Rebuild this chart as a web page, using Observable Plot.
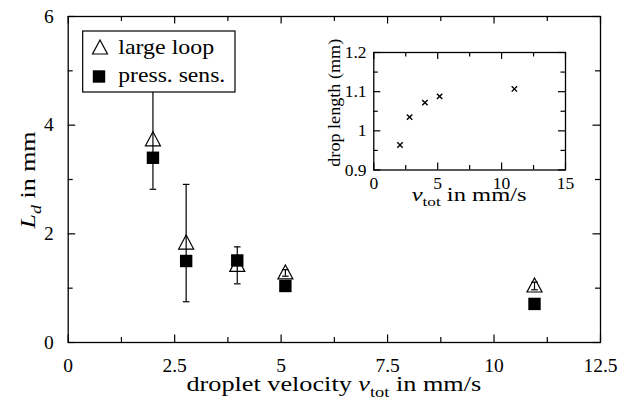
<!DOCTYPE html>
<html><head><meta charset="utf-8">
<script src="https://cdn.jsdelivr.net/npm/d3@7"></script>
<script src="https://cdn.jsdelivr.net/npm/@observablehq/plot@0.6"></script>
<style>
body{margin:0;background:#fff;}
#wrap{position:relative;width:632px;height:401px;}
#main{position:absolute;left:0;top:0;}
#inset{position:absolute;left:310px;top:40px;}
svg{overflow:visible;display:block;}
</style></head><body>
<div id="wrap"><div id="main"></div><div id="inset"></div></div>
<script>
// ---- data ----
const velocity = [1.99, 2.77, 3.97, 5.1, 10.95];
const largeLoop = [3.73, 1.83, 1.42, 1.28, 1.04];
const largeLoopErr = [0.91, 1.08, 0.34, 0.06, 0.07];
const pressSens = [3.40, 1.50, 1.51, 1.04, 0.71];
const insetVelocity = [2.05, 2.8, 4.0, 5.15, 11.0];
const dropLength = [0.964, 1.035, 1.072, 1.088, 1.107];
const xTicks = [0, 2.5, 5, 7.5, 10, 12.5];
const xMinor = [1.25, 3.75, 6.25, 8.75, 11.25];
const yTicks = [0, 2, 4, 6];
const yMinor = [1, 3, 5];
const insetXTicks = [0, 5, 10, 15];
const insetXMinor = [2.5, 7.5, 12.5];
const insetYTicks = [0.9, 1, 1.1, 1.2];
const insetYMinor = [0.95, 1.05, 1.15];
const seriesNames = ["large loop", "press. sens."];

// ---- symbols ----
const R = s => Math.sqrt(s / Math.PI);
const triangleSymbol = {draw(c, s){const r=R(s); c.moveTo(0,-r*1.07); c.lineTo(r,r*0.8); c.lineTo(-r,r*0.8); c.closePath();}};
const squareSymbol = {draw(c, s){const r=R(s); c.rect(-r,-r,2*r,2*r);}};
const capSymbol = {draw(c, s){const r=R(s); c.moveTo(-r,0); c.lineTo(r,0);}};
const crossSymbol = {draw(c, s){const r=R(s); c.moveTo(-r,-r); c.lineTo(r,r); c.moveTo(r,-r); c.lineTo(-r,r);}};

const rows = velocity.map((x, i) => ({x, loop: largeLoop[i], err: largeLoopErr[i], press: pressSens[i]}));
const insetRows = insetVelocity.map((x, i) => ({x, y: dropLength[i]}));

const font = "Liberation Serif";
const W = 632, H = 401, mL = 67.7, mR = 32, mT = 16, mB = 59;
const pW = W - mL - mR, pH = H - mT - mB;
const SW = 1.2;

function frameTicks(xs, xsMinor, ys, ysMinor, pw, ph, big, small) {
  return [
    Plot.tickX(xs, {x: d => d, insetTop: ph - big, strokeWidth: SW}),
    Plot.tickX(xs, {x: d => d, insetBottom: ph - big, strokeWidth: SW}),
    Plot.tickX(xsMinor, {x: d => d, insetTop: ph - small, strokeWidth: SW}),
    Plot.tickX(xsMinor, {x: d => d, insetBottom: ph - small, strokeWidth: SW}),
    Plot.tickY(ys, {y: d => d, insetRight: pw - big, strokeWidth: SW}),
    Plot.tickY(ys, {y: d => d, insetLeft: pw - big, strokeWidth: SW}),
    Plot.tickY(ysMinor, {y: d => d, insetRight: pw - small, strokeWidth: SW}),
    Plot.tickY(ysMinor, {y: d => d, insetLeft: pw - small, strokeWidth: SW}),
    Plot.frame({stroke: "black", strokeWidth: 1.3})
  ];
}

const main = Plot.plot({
  width: W, height: H, marginLeft: mL, marginRight: mR, marginTop: mT, marginBottom: mB,
  style: {fontFamily: font, fontSize: "19px", color: "black", background: "transparent"},
  x: {domain: [0, 12.5], axis: null},
  y: {domain: [0, 6], axis: null},
  marks: [
    ...frameTicks(xTicks, xMinor, yTicks, yMinor, pW, pH, 7.5, 5),
    Plot.text(xTicks, {x: d => d, text: d => String(d), frameAnchor: "bottom", dy: 23, lineAnchor: "middle", fontSize: 19.5, fontFamily: font}),
    Plot.text(yTicks, {y: d => d, text: d => String(d), frameAnchor: "left", dx: -14.5, textAnchor: "end", lineAnchor: "middle", fontSize: 19.5, fontFamily: font}),
    Plot.ruleX(rows, {x: "x", y1: d => d.loop - d.err, y2: d => d.loop + d.err, stroke: "black", strokeWidth: SW}),
    Plot.dot(rows, {x: "x", y: d => d.loop + d.err, symbol: capSymbol, r: 3.3, stroke: "black", strokeWidth: SW}),
    Plot.dot(rows, {x: "x", y: d => d.loop - d.err, symbol: capSymbol, r: 3.3, stroke: "black", strokeWidth: SW}),
    Plot.dot(rows, {x: "x", y: "loop", symbol: triangleSymbol, r: 7.5, stroke: "black", fill: "none", strokeWidth: SW}),
    Plot.dot(rows, {x: "x", y: "press", symbol: squareSymbol, r: 6.2, fill: "black", stroke: "none"})
  ]
});
document.getElementById("main").appendChild(main);

// labels & legend (rich text with subscripts), stretched to the reference width
const ms = d3.select(main);
function label(sel, parts, opts) {
  const t = sel.append("text")
    .attr("font-family", font).attr("font-size", opts.size).attr("fill", "black")
    .attr("text-anchor", opts.anchor || "middle")
    .attr("transform", opts.transform);
  let shift = 0;
  for (const p of parts) {
    const ts = t.append("tspan").text(p.t);
    if (p.italic) ts.attr("font-style", "italic");
    const target = p.sub ? 0.28 * opts.size : 0;
    if (target !== shift) { ts.attr("dy", target - shift); shift = target; }
    if (p.sub) ts.attr("font-size", opts.size * 0.7);
  }
  const w = t.node().getComputedTextLength();
  if (w > 0) t.attr("transform", `${opts.transform} scale(${(opts.len / w).toFixed(3)},1)`);
  return t;
}
label(ms, [{t: "droplet velocity "}, {t: "v", italic: true}, {t: "tot", sub: true}, {t: " in mm/s"}],
  {size: 20, len: 295, transform: `translate(${mL + pW / 2},391)`});
label(ms, [{t: "L", italic: true}, {t: "d", italic: true, sub: true}, {t: " in mm"}],
  {size: 20, len: 97, transform: `translate(35,180) rotate(-90)`});

const lg = ms.append("g");
lg.append("rect").attr("x", 82.7).attr("y", 31).attr("width", 152.3).attr("height", 61)
  .attr("fill", "white").attr("stroke", "black").attr("stroke-width", SW);
lg.append("path").attr("d", d3.symbol(triangleSymbol, 7.5 * 7.5 * Math.PI)()).attr("transform", "translate(100,48)")
  .attr("fill", "none").attr("stroke", "black").attr("stroke-width", SW);
lg.append("path").attr("d", d3.symbol(squareSymbol, 6.2 * 6.2 * Math.PI)()).attr("transform", "translate(99,76.5)")
  .attr("fill", "black");
[[seriesNames[0], 54.3, 96], [seriesNames[1], 82, 107]].forEach(([s, y, len]) => {
  label(lg, [{t: s}], {size: 20.5, len, anchor: "start", transform: `translate(118.3,${y})`});
});

// ---- inset ----
const iW = 280, iH = 170, iL = 63.3, iR = 25, iT = 12, iB = 40.5;
const ipW = iW - iL - iR, ipH = iH - iT - iB;
const inset = Plot.plot({
  width: iW, height: iH, marginLeft: iL, marginRight: iR, marginTop: iT, marginBottom: iB,
  style: {fontFamily: font, fontSize: "17.5px", color: "black", background: "transparent"},
  x: {domain: [0, 15], axis: null},
  y: {domain: [0.9, 1.2], axis: null},
  marks: [
    ...frameTicks(insetXTicks, insetXMinor, insetYTicks, insetYMinor, ipW, ipH, 7, 4.5),
    Plot.text(insetXTicks, {x: d => d, text: d => String(d), frameAnchor: "bottom", dy: 13.5, lineAnchor: "middle", fontSize: 17.5, fontFamily: font}),
    Plot.text(insetYTicks, {y: d => d, text: d => String(d), frameAnchor: "left", dx: -7.3, textAnchor: "end", lineAnchor: "middle", fontSize: 17.5, fontFamily: font}),
    Plot.dot(insetRows, {x: "x", y: "y", symbol: crossSymbol, r: 2.7, stroke: "black", strokeWidth: 1.4})
  ]
});
document.getElementById("inset").appendChild(inset);
const is = d3.select(inset);
label(is, [{t: "v", italic: true}, {t: "tot", sub: true}, {t: " in mm/s"}],
  {size: 18, len: 115, transform: `translate(${iL + ipW / 2},161)`});
label(is, [{t: "drop length (mm)"}],
  {size: 17.5, len: 128, transform: `translate(30,${iT + ipH / 2 - 8}) rotate(-90)`});
</script>
</body></html>
